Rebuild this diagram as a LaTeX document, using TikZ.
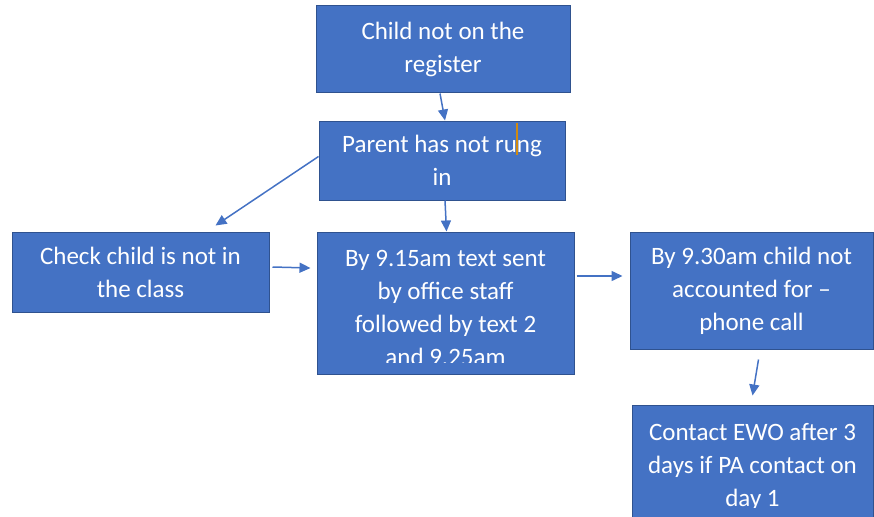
\documentclass[tikz,border=0pt]{standalone}
\usepackage{fontspec}
\setmainfont{Carlito}
\usepackage{tikz}
\usetikzlibrary{arrows.meta}

\definecolor{boxblue}{HTML}{4472C4}
\definecolor{boxedge}{HTML}{2F528F}
\definecolor{cursor}{HTML}{D08A10}

\begin{document}
\begin{tikzpicture}[x=1pt, y=-1pt,
    box/.style={draw=boxedge, line width=1pt, fill=boxblue, text=white,
        align=center, inner sep=0pt, font=\fontsize{25}{33}\selectfont},
    flow/.style={draw=boxblue, line width=1.5pt, -{Triangle[length=11pt, width=10pt]}}]
    \useasboundingbox (0,0) rectangle (874,516);
\node[box, minimum width=254pt, minimum height=87pt] (reg) at (443,49.5) {Child not on the\\register};
\node[box, minimum width=246pt, minimum height=79pt] (rung) at (442,160.5) {Parent has not rung\\in};
\node[box, minimum width=257pt, minimum height=80pt] (check) at (140.5,272) {Check child is not in\\the class};
\node[box, minimum width=257pt, minimum height=142pt] (sent) at (445.5,303) {};
\node[box, minimum width=243pt, minimum height=117pt] (phone) at (751.5,290.5) {By 9.30am child not\\accounted for --\\phone call};
\node[box, minimum width=241pt, minimum height=120pt] (ewo) at (752.5,465) {};
    % texts that run out of their boxes
    \begin{scope}
    \clip (318,233) rectangle (573,362);
    \node[box, draw=none, fill=none] (senttext) at (445.5,307.5) {By 9.15am text sent\\by office staff\\followed by text 2\\and 9.25am};
    \end{scope}
    \begin{scope}
    \clip (633,406) rectangle (872,507);
    \node[box, draw=none, fill=none] (ewotext) at (752.5,467) {Contact EWO after 3\\days if PA contact on\\day 1};
    \end{scope}
    \draw[cursor, line width=1.2pt] (517,123) -- (517,155);
\draw[flow] ([xshift=-3pt]reg.south) -- ([xshift=3pt]rung.north);
\draw[flow] ([yshift=4pt]rung.west) -- ([xshift=75pt, yshift=6pt]check.north);
\draw[flow] ([xshift=3pt]rung.south) -- ([xshift=1pt]sent.north);
\draw[flow] ([xshift=3pt, yshift=5pt]check.east) -- ([xshift=-6pt, yshift=35pt]sent.west);
\draw[flow] ([xshift=2pt, yshift=27pt]sent.east) -- ([xshift=-7pt, yshift=14.5pt]phone.west);
\draw[flow] ([xshift=7pt, yshift=-10pt]phone.south) -- ([yshift=9pt]ewo.north);
\end{tikzpicture}
\end{document}
